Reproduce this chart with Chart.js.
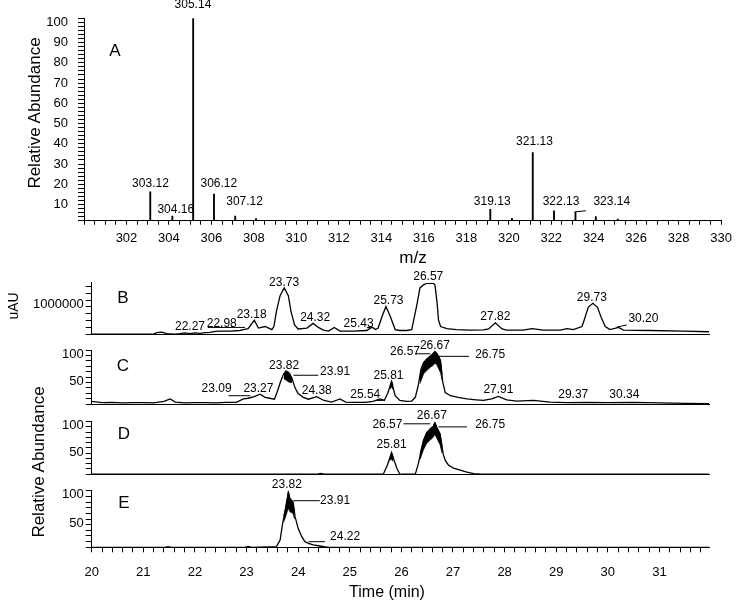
<!doctype html>
<html lang="en">
<head>
<meta charset="utf-8">
<title>Mass spectrum and chromatograms</title>
<style>
  * { margin: 0; padding: 0; }
  body { background: #fff; font-family: "Liberation Sans", Arial, sans-serif; }
  .figure { position: relative; width: 738px; height: 600px; overflow: hidden; background: #fff; }
  .figure canvas { position: absolute; left: 0; }
  .txt { position: absolute; color: #000; white-space: nowrap; line-height: 1; transform: translate(-50%, -50%); }
  .rot { transform: translate(-50%, -50%) rotate(-90deg); }
</style>
</head>
<body>
<div class="figure">
  <canvas id="specA" width="738" height="252" style="top:0px"></canvas>
  <canvas id="chromB" width="738" height="78" style="top:266px"></canvas>
  <canvas id="chromC" width="738" height="76" style="top:338px"></canvas>
  <canvas id="chromD" width="738" height="80" style="top:404px"></canvas>
  <canvas id="chromE" width="738" height="124" style="top:476px"></canvas>

  <div class="txt rot" style="left:34px;top:113px;font-size:17px">Relative Abundance</div>
  <div class="txt" style="left:413px;top:257px;font-size:17px">m/z</div>
  <div class="txt rot" style="left:13px;top:306px;font-size:14px">uAU</div>
  <div class="txt rot" style="left:38px;top:462px;font-size:17px">Relative Abundance</div>
  <div class="txt" style="left:387px;top:592px;font-size:16px">Time (min)</div>

  <div class="txt" style="left:115px;top:50px;font-size:17px">A</div>
  <div class="txt" style="left:123px;top:297px;font-size:17px">B</div>
  <div class="txt" style="left:123px;top:365px;font-size:17px">C</div>
  <div class="txt" style="left:124px;top:433px;font-size:17px">D</div>
  <div class="txt" style="left:124px;top:502px;font-size:17px">E</div>
</div>

<script src="https://cdn.jsdelivr.net/npm/chart.js/dist/chart.umd.min.js"></script>
<script>
// ---- data ----
// A: mass spectrum
const mzValues    = [303.12, 304.16, 305.14, 306.12, 307.12, 308.10, 319.13, 320.15, 321.13, 322.13, 323.14, 324.10, 325.13];
const mzAbundance = [14.3,   2.3,    100,    13.2,   2.3,    1.0,    5.6,    1.2,    33.6,   4.9,    4.4,    2.0,    0.8];

// B: UV trace (uAU)
const bTime = [
  20.0, 21.2, 21.26, 21.36, 21.45, 21.6, 21.71, 21.8, 21.9, 22.0,
  22.1, 22.2, 22.29, 22.4, 22.49, 22.68, 22.87, 22.94, 23.03, 23.15,
  23.23, 23.36, 23.49, 23.53, 23.58, 23.65, 23.73, 23.81, 23.86, 23.93,
  24.0, 24.17, 24.29, 24.39, 24.49, 24.59, 24.70, 24.81, 25.07, 25.33,
  25.43, 25.5, 25.55, 25.62, 25.70, 25.78, 25.88, 25.97, 26.1, 26.2,
  26.30, 26.36, 26.43, 26.49, 26.62, 26.65, 26.69, 26.72, 26.76, 26.88,
  27.07, 27.33, 27.59, 27.69, 27.82, 27.95, 28.04, 28.36, 28.53, 28.75,
  29.08, 29.21, 29.33, 29.50, 29.56, 29.62, 29.71, 29.80, 29.87, 29.95,
  30.04, 30.21, 30.30, 30.82, 31.46, 31.96
];
const bSignal = [
  0, 0, 45000, 63000, 18000, 0, 18000, 36000, 18000, 36000,
  27000, 45000, 54000, 82000, 90000, 90000, 109000, 136000, 163000, 408000,
  181000, 226000, 136000, 226000, 679000, 1132000, 1359000, 1132000, 679000, 272000,
  154000, 181000, 317000, 199000, 118000, 90000, 199000, 90000, 90000, 109000,
  208000, 136000, 181000, 498000, 815000, 543000, 136000, 109000, 109000, 136000,
  861000, 1359000, 1449000, 1495000, 1495000, 1449000, 951000, 408000, 226000, 163000,
  136000, 118000, 127000, 154000, 335000, 154000, 118000, 118000, 163000, 118000,
  118000, 163000, 136000, 226000, 498000, 788000, 906000, 788000, 498000, 226000,
  136000, 199000, 118000, 109000, 90000, 72000
];
const bTicks = [0, 200000, 400000, 600000, 800000, 1000000, 1200000, 1400000];

// C: relative abundance
const cTime = [
  20.0, 20.2, 20.4, 20.6, 20.8, 21.0, 21.2, 21.4, 21.52, 21.62,
  21.8, 22.0, 22.2, 22.4, 22.6, 22.8, 22.94, 23.03, 23.15, 23.26,
  23.36, 23.45, 23.54, 23.6, 23.66, 23.72, 23.8, 23.88, 23.94, 24.0,
  24.1, 24.2, 24.36, 24.5, 24.65, 24.81, 24.92, 25.1, 25.3, 25.45,
  25.59, 25.67, 25.74, 25.81, 25.88, 25.97, 26.1, 26.2, 26.27, 26.33,
  26.38, 26.43, 26.49, 26.59, 26.65, 26.72, 26.76, 26.80, 26.85, 26.95,
  27.1, 27.27, 27.45, 27.59, 27.75, 27.88, 28.04, 28.23, 28.56, 28.88,
  29.21, 29.6, 30.0, 30.5, 31.0, 31.5, 31.96
];
const cLevel = [
  5.2, 2.8, 3.4, 2.3, 2.8, 2.8, 2.3, 5.2, 9.8, 4.0,
  2.3, 2.8, 2.8, 2.3, 3.4, 3.4, 9.8, 11.0, 13.9, 18.6,
  12.7, 11.0, 9.2, 24.4, 41.8, 56.4, 59.3, 47.6, 30.2, 19.7,
  12.7, 9.2, 13.9, 6.9, 4.0, 9.8, 4.0, 3.4, 3.4, 5.2,
  9.8, 6.9, 21.5, 41.8, 15.6, 6.9, 5.2, 5.8, 12.7, 36.0,
  65.1, 76.7, 82.5, 91.3, 97.1, 88.4, 76.7, 41.8, 21.5, 15.6,
  12.7, 9.8, 8.1, 6.9, 9.8, 14.5, 8.1, 5.8, 6.9, 4.0,
  2.8, 3.4, 2.8, 3.4, 2.3, 1.7, 1.1
];
const cNoiseTime = [23.72, 23.76, 23.80, 23.84, 23.88, 24.5, 25.78, 25.81, 25.84, 26.0, 26.36, 26.43, 26.49, 26.56, 26.62, 26.65, 26.69, 26.72, 26.76, 26.79];
const cNoiseTop  = [56,    62,    60,    57,    48,    null, 34,    43,    35,    null, 50,    77,    84,    89,    93,    97,    94,    89,    82,    55];
const cNoiseLow  = [47,    45,    42,    40,    40,    null, 28,    32,    27,    null, 38,    56,    62,    68,    72,    76,    72,    66,    58,    44];

// D
const dTime = [
  20.0, 24.38, 24.43, 24.5, 25.65, 25.73, 25.78, 25.81, 25.86, 25.91,
  25.97, 26.27, 26.33, 26.38, 26.43, 26.49, 26.56, 26.62, 26.65, 26.69,
  26.75, 26.81, 26.85, 26.91, 27.01, 27.14, 27.27, 27.40, 27.55, 31.96
];
const dLevel = [
  0, 0, 1.5, 0, 0, 17.6, 32.3, 41.2, 26.4, 11.7,
  0, 0, 20.6, 44.1, 64.7, 79.4, 86.5, 91.2, 98.3, 88.3,
  76.5, 38.2, 26.4, 17.6, 11.7, 7.6, 4.1, 1.1, 0, 0
];
const dNoiseTime = [25.78, 25.81, 25.84, 26.0, 26.36, 26.43, 26.49, 26.56, 26.62, 26.65, 26.69, 26.75, 26.79];
const dNoiseTop  = [32,    41,    34,    null, 38,    65,    79,    86,    91,    98,    88,    76,    52];
const dNoiseLow  = [26,    29,    24,    null, 28,    47,    59,    65,    71,    76,    68,    56,    40];

// E
const eTime = [
  20.0, 21.42, 21.48, 21.55, 22.97, 23.03, 23.1, 23.58, 23.65, 23.70,
  23.75, 23.79, 23.81, 23.84, 23.90, 23.94, 24.00, 24.07, 24.13, 24.20,
  24.29, 24.42, 24.50, 24.60, 31.96
];
const eLevel = [
  0, 0, 1.2, 0, 0, 1.5, 0, 1.1, 12.9, 42.3,
  66.0, 86.5, 98.0, 86.5, 80.6, 54.1, 33.5, 18.8, 10.0, 7.0,
  4.1, 2.3, 1.1, 0, 0
];
const eNoiseTime = [23.72, 23.75, 23.79, 23.81, 23.84, 23.90, 23.93];
const eNoiseTop  = [55,    66,    86,    98,    86,    80,    62];
const eNoiseLow  = [45,    52,    64,    69,    63,    60,    50];

const relTicks = [0, 10, 20, 30, 40, 50, 60, 70, 80, 90, 100];

// peak annotations: [text, x, y] and leader lines [x1, y1, x2, y2]
const notesA = [['303.12', 303.13, 18.1], ['304.16', 304.32, 5.3], ['305.14', 305.13, 106.6], ['306.12', 306.35, 18.1],
  ['307.12', 307.56, 9.4], ['319.13', 319.22, 9.4], ['321.13', 321.21, 39.0], ['322.13', 322.46, 9.4], ['323.14', 324.85, 9.4]];
const leadA = [[323.14, 4.4, 323.63, 4.9]];
const notesB = [['22.27', 21.905, 226000], ['22.98', 22.52, 300000], ['23.18', 23.10, 571000], ['23.73', 23.727, 1511000],
  ['24.32', 24.33, 479000], ['25.43', 25.17, 300000], ['25.73', 25.75, 978000], ['26.57', 26.52, 1675000],
  ['27.82', 27.82, 517000], ['29.73', 29.69, 1060000], ['30.20', 30.69, 452000]];
const leadB = [[22.25, 199000, 22.97, 199000], [25.33, 190000, 25.43, 208000], [30.17, 207000, 30.37, 272000]];
const notesC = [['23.09', 22.42, 29], ['23.27', 23.23, 29], ['23.82', 23.727, 70.9], ['23.91', 24.715, 59.3],
  ['24.38', 24.36, 24.4], ['25.54', 25.30, 17.5], ['25.81', 25.75, 52.4], ['26.57', 26.07, 97],
  ['26.67', 26.65, 108.7], ['26.75', 27.72, 91.3], ['27.91', 27.88, 26.2], ['29.37', 29.33, 17.5], ['30.34', 30.32, 17.5]];
const leadC = [[22.65, 15.7, 23.07, 15.7], [23.91, 53.4, 24.39, 53.4], [25.51, 7, 25.65, 7], [26.27, 93, 26.56, 93], [26.72, 88.3, 27.31, 88.3]];
const notesD = [['26.57', 25.73, 94.2], ['26.67', 26.59, 111.8], ['26.75', 27.72, 94.2], ['25.81', 25.81, 55.8]];
const leadD = [[26.04, 96, 26.56, 96], [26.72, 90.1, 27.27, 90.1]];
const notesE = [['23.82', 23.78, 110], ['23.91', 24.715, 82.3], ['24.22', 24.91, 18.7]];
const leadE = [[23.91, 82.3, 24.42, 82.3], [24.20, 9.9, 24.52, 9.9]];

// ---- helpers ----
const FONT = '"Liberation Sans", Arial, sans-serif';
const pts = (xs, ys) => xs.map((x, i) => ({x: x, y: ys[i]}));

const peakNotes = {
  id: 'peakNotes',
  afterDatasetsDraw(chart, args, opts) {
    const ctx = chart.ctx, xs = chart.scales.x, ys = chart.scales.y;
    ctx.save();
    ctx.strokeStyle = '#000';
    ctx.lineWidth = 1;
    (opts.leaders || []).forEach(l => {
      ctx.beginPath();
      ctx.moveTo(xs.getPixelForValue(l[0]), ys.getPixelForValue(l[1]));
      ctx.lineTo(xs.getPixelForValue(l[2]), ys.getPixelForValue(l[3]));
      ctx.stroke();
    });
    ctx.fillStyle = '#000';
    ctx.font = '12px ' + FONT;
    ctx.textAlign = 'center';
    ctx.textBaseline = 'middle';
    (opts.labels || []).forEach(n => ctx.fillText(n[0], xs.getPixelForValue(n[1]), ys.getPixelForValue(n[2])));
    ctx.restore();
  }
};
Chart.register(peakNotes);

const axisBorder = {display: true, color: '#000', width: 1};

function traceSets(time, level, nTime, nTop, nLow) {
  const sets = [{
    data: pts(time, level), borderColor: '#000', borderWidth: 1.3,
    pointRadius: 0, tension: 0, fill: false
  }];
  if (nTime) {
    sets.push({data: pts(nTime, nLow), borderColor: '#000', borderWidth: 0.8, pointRadius: 0, fill: false});
    sets.push({data: pts(nTime, nTop), borderColor: '#000', borderWidth: 0.8, pointRadius: 0,
      backgroundColor: '#000', fill: '-1'});
  }
  return sets;
}

function chromChart(id, sets, o) {
  return new Chart(document.getElementById(id), {
    type: 'line',
    data: {datasets: sets},
    options: {
      responsive: false, animation: false, events: [],
      layout: {padding: {top: o.padTop, right: 29, left: 0, bottom: 0}},
      plugins: {legend: {display: false}, tooltip: {enabled: false},
        peakNotes: {labels: o.labels, leaders: o.leaders}},
      scales: {
        x: {
          type: 'linear', min: 20, max: 31.96, bounds: 'data',
          afterFit: s => { s.height = o.xHeight; },
          border: axisBorder,
          grid: {drawOnChartArea: false, drawTicks: o.time, color: '#000', tickLength: 5},
          ticks: o.time ? {
            display: true, stepSize: 0.2, includeBounds: false, autoSkip: false, maxRotation: 0,
            padding: 12, color: '#000', font: {size: 13, family: FONT},
            callback: v => Math.abs(v - Math.round(v)) < 1e-6 ? String(Math.round(v)) : ''
          } : {display: false}
        },
        y: {
          type: 'linear', min: 0, max: o.yMax, bounds: 'data',
          afterFit: s => { s.width = 91.7; },
          afterBuildTicks: s => { s.ticks = o.yTicks.map(v => ({value: v})); },
          border: axisBorder,
          grid: {drawOnChartArea: false, color: '#000', tickLength: 6},
          ticks: {
            autoSkip: false, padding: 2, labelOffset: 4,
            color: '#000', font: {size: 13, family: FONT},
            callback: v => o.yShown.includes(v) ? String(v) : ''
          }
        }
      }
    }
  });
}

// ---- A: spectrum ----
new Chart(document.getElementById('specA'), {
  type: 'bar',
  data: {datasets: [{data: pts(mzValues, mzAbundance), backgroundColor: '#000', barThickness: 1.2}]},
  options: {
    responsive: false, animation: false, events: [],
    layout: {padding: {top: 18.3, right: 15, left: 0, bottom: 0}},
    plugins: {legend: {display: false}, tooltip: {enabled: false},
      peakNotes: {labels: notesA, leaders: leadA}},
    scales: {
      x: {
        type: 'linear', min: 300, max: 330, offset: false, bounds: 'data',
        afterFit: s => { s.height = 31.3; },
        border: axisBorder,
        grid: {drawOnChartArea: false, color: '#000', tickLength: 4, offset: false},
        ticks: {stepSize: 0.5, autoSkip: false, maxRotation: 0, padding: 6, color: '#000',
          font: {size: 13, family: FONT},
          callback: v => (v > 300 && v % 2 === 0) ? String(v) : ''}
      },
      y: {
        min: 0, max: 100,
        afterFit: s => { s.width = 84; },
        border: axisBorder,
        grid: {drawOnChartArea: false, color: '#000', tickLength: 6},
        ticks: {stepSize: 2, autoSkip: false, padding: 10, labelOffset: 4, color: '#000',
          font: {size: 13, family: FONT},
          callback: v => (v > 0 && v % 10 === 0) ? String(v) : ''}
      }
    }
  }
});

// ---- B-E: chromatograms ----
chromChart('chromB', traceSets(bTime, bSignal), {
  padTop: 16.7, xHeight: 5.7, time: false, yMax: 1512000, yTicks: bTicks, yShown: [1000000],
  labels: notesB, leaders: leadB
});
chromChart('chromC', traceSets(cTime, cLevel, cNoiseTime, cNoiseTop, cNoiseLow), {
  padTop: 12, xHeight: 6.7, time: false, yMax: 100, yTicks: relTicks, yShown: [50, 100],
  labels: notesC, leaders: leadC
});
chromChart('chromD', traceSets(dTime, dLevel, dNoiseTime, dNoiseTop, dNoiseLow), {
  padTop: 17.7, xHeight: 5.7, time: false, yMax: 100, yTicks: relTicks, yShown: [50, 100],
  labels: notesD, leaders: leadD
});
chromChart('chromE', traceSets(eTime, eLevel, eNoiseTime, eNoiseTop, eNoiseLow), {
  padTop: 14.7, xHeight: 52.7, time: true, yMax: 100, yTicks: relTicks, yShown: [50, 100],
  labels: notesE, leaders: leadE
});
</script>
</body>
</html>
